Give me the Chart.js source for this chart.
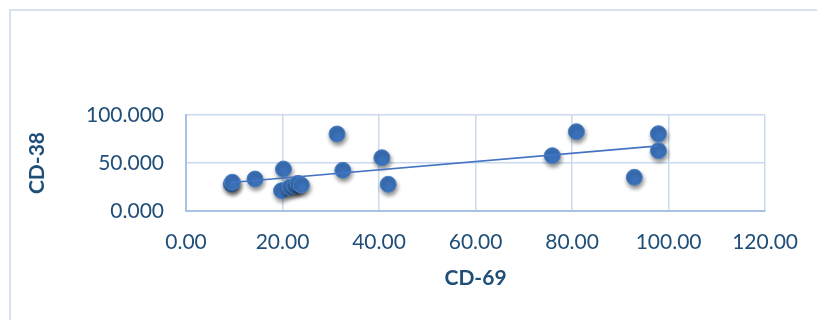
<!DOCTYPE html>
<html>
<head>
<meta charset="utf-8">
<script src="https://cdn.jsdelivr.net/npm/chart.js@4/dist/chart.umd.min.js"></script>
<style>
    html, body { margin: 0; padding: 0; background: #fff; }
    #wrap { position: relative; width: 817px; height: 320px; overflow: hidden; }
    #frame {
        position: absolute; left: 9px; top: 9px; width: 900px; height: 400px;
        border-left: 2px solid #d7e1ef; border-top: 2px solid #d7e1ef;
    }
    canvas { position: absolute; left: 0; top: 0; }
</style>
</head>
<body>
<div id="wrap">
    <div id="frame"></div>
    <canvas id="scatterChart" width="817" height="320"></canvas>
</div>
<script>
// CD-69 (x) vs CD-38 (y)
const cd69 = [9.4, 9.6, 14.3, 20.2, 19.8, 21.5, 22.5, 23.2, 23.9, 31.3, 32.5, 40.6, 41.9, 75.9, 80.9, 92.9, 97.9, 97.9];
const cd38 = [28.0, 30.0, 33.3, 43.7, 21.2, 24.7, 26.0, 28.8, 27.0, 80.2, 42.4, 55.5, 27.8, 57.6, 82.6, 35.1, 80.5, 62.8];

const xTitle = 'CD-69';
const yTitle = 'CD-38';

const points = cd69.map((x, i) => ({ x: x, y: cd38[i] }));

// linear trendline (least squares) over the points
const n = cd69.length;
const mx = cd69.reduce((a, b) => a + b, 0) / n;
const my = cd38.reduce((a, b) => a + b, 0) / n;
let sxy = 0, sxx = 0;
cd69.forEach((x, i) => {
    sxy += (x - mx) * (cd38[i] - my);
    sxx += (x - mx) * (x - mx);
});
const slope = sxy / sxx;
const intercept = my - slope * mx;
const xMin = Math.min(...cd69);
const xMax = Math.max(...cd69);
const trend = [
    { x: xMin, y: intercept + slope * xMin },
    { x: xMax, y: intercept + slope * xMax }
];

const textBlue = '#1f4e79';
const gridBlue = '#cbdaee';

// soft drop shadow under the markers, like the office chart
const shadowPlugin = {
    id: 'markerShadow',
    beforeDatasetDraw(chart, args) {
        if (args.index !== 0) return;
        const ctx = chart.ctx;
        ctx.save();
        ctx.shadowColor = 'rgba(0,0,0,0.45)';
        ctx.shadowBlur = 4;
        ctx.shadowOffsetX = 1;
        ctx.shadowOffsetY = 3;
    },
    afterDatasetDraw(chart, args) {
        if (args.index !== 0) return;
        chart.ctx.restore();
    }
};

const ctx = document.getElementById('scatterChart').getContext('2d');

const chart = new Chart(ctx, {
    type: 'scatter',
    data: {
        datasets: [{
            label: yTitle,
            data: points,
            backgroundColor: '#3a71b8',
            borderColor: '#4d81c6',
            borderWidth: 1,
            pointRadius: 8,
            pointHoverRadius: 8,
            order: 1
        },
        {
            type: 'line',
            label: 'Trend',
            data: trend,
            borderColor: '#4472c4',
            borderWidth: 1.6,
            pointRadius: 0,
            fill: false,
            order: 0
        }]
    },
    plugins: [shadowPlugin],
    options: {
        responsive: false,
        animation: false,
        layout: {
            padding: { left: 0, top: 115, right: 50, bottom: 0 }
        },
        scales: {
            x: {
                type: 'linear',
                min: 0,
                max: 120,
                afterFit: (scale) => { scale.height = 109; },
                grid: { color: gridBlue, lineWidth: 1.5, drawTicks: false },
                border: { color: '#a8c3e6', width: 2 },
                ticks: {
                    stepSize: 20,
                    padding: 19,
                    color: textBlue,
                    font: { family: 'Lato', size: 21 },
                    callback: (v) => v.toFixed(2)
                },
                title: {
                    display: true,
                    text: xTitle,
                    color: textBlue,
                    font: { family: 'Lato', size: 21, weight: 'bold' },
                    padding: { top: 0, bottom: 29 }
                }
            },
            y: {
                type: 'linear',
                min: 0,
                max: 100,
                afterFit: (scale) => { scale.width = 186; },
                grid: { color: gridBlue, lineWidth: 1.5, drawTicks: false },
                border: { color: '#a8c3e6', width: 2 },
                ticks: {
                    stepSize: 50,
                    padding: 22,
                    color: textBlue,
                    font: { family: 'Lato', size: 21 },
                    callback: (v) => v.toFixed(3)
                },
                title: {
                    display: true,
                    text: yTitle,
                    color: textBlue,
                    font: { family: 'Lato', size: 21, weight: 'bold' },
                    padding: { top: 25, bottom: 0 }
                }
            }
        },
        plugins: {
            legend: { display: false },
            tooltip: { enabled: false }
        }
    }
});
</script>
</body>
</html>
